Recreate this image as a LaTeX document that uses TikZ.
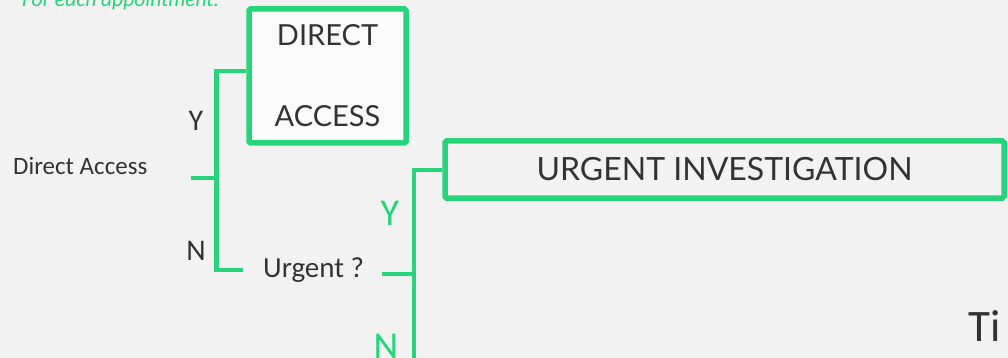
\documentclass[tikz,border=0pt]{standalone}
\usepackage{fontspec}
\setmainfont{Carlito}
\newfontfamily\boxfont{Lato}
\definecolor{dt-green}{RGB}{38,212,122}
\definecolor{dt-bg}{RGB}{242,242,242}
\definecolor{dt-white}{RGB}{250,250,250}
\definecolor{dt-text}{RGB}{51,51,51}

\begin{document}
\begin{tikzpicture}[x=1pt,y=-1pt,
  branch/.style={dt-green,line width=4.5pt},
  outcome/.style={draw=dt-green,line width=5.5pt,rounded corners=1.5pt,inner sep=0pt,text=dt-text},
  answer/.style={anchor=base,inner sep=0pt,text=dt-text,font=\fontsize{30}{36}\selectfont},
  bigans/.style={anchor=base,inner sep=0pt,text=dt-green,font=\fontsize{38}{44}\selectfont},
  question/.style={anchor=base west,inner sep=0pt,text=dt-text}]
%Hintergrund:
\useasboundingbox (0,0) rectangle (1008,358);
\fill[dt-bg] (0,0) rectangle (1008,358);
\node[anchor=base west,inner sep=0pt,text=dt-green,font=\fontsize{21.5}{25}\selectfont\itshape] (title) at (22,7) {For each appointment:};
%Ergebnisse:
\node[outcome,fill=dt-white,minimum width=157pt,minimum height=134pt,align=center,font=\boxfont\fontsize{29}{81}\selectfont] (dabox) at (327.5,76) {DIRECT\\ACCESS};
\node[outcome,minimum width=559pt,minimum height=57pt,font=\boxfont\fontsize{32}{38}\selectfont] (uibox) at (724.5,169.5) {URGENT INVESTIGATION};
%Fragen:
\node[question,font=\fontsize{25}{30}\selectfont] (da) at (13,175) {Direct Access};
\node[question,font=\fontsize{29}{34}\selectfont] (urg) at (263,277) {Urgent ?};
\node[anchor=base west,inner sep=0pt,text=dt-text,font=\fontsize{45}{52}\selectfont] (ti) at (968,341) {Ti};
%Verzweigungen:
\coordinate (s1) at (191,178);
\coordinate (b1) at (216.5,178);
\coordinate (e1) at (243,270);
\draw[branch] (s1) -- (b1);
\draw[branch] (dabox.west |- 0,71) -| (b1) |- (e1);
\coordinate (s2) at (382,274);
\coordinate (b2) at (414,274);
\coordinate (e2) at (414,362);
\draw[branch] (s2) -- (b2);
\draw[branch] (uibox.west |- 0,170) -| (b2) -- (e2);
%Antworten:
\node[answer] (y1) at (196,131) {Y};
\node[answer] (n1) at (196,260) {N};
\node[bigans] (y2) at (390,225) {Y};
\node[bigans] (n2) at (386,358) {N};
\end{tikzpicture}
\end{document}
